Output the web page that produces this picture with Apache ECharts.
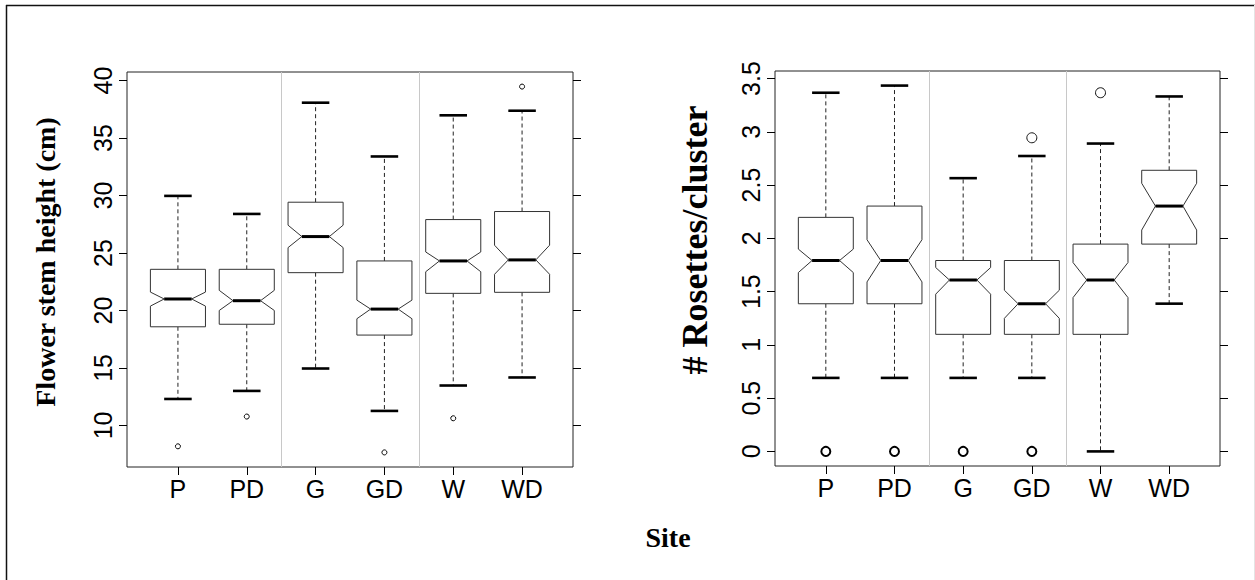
<!DOCTYPE html>
<html>
<head>
<meta charset="utf-8">
<script src="https://cdn.jsdelivr.net/npm/echarts@6/dist/echarts.min.js"></script>
<style>
html,body{margin:0;padding:0;background:#fff;}
#chart{width:1255px;height:580px;}
</style>
</head>
<body>
<div id="chart"></div>
<script>
// ---------- data ----------
var categories = ['P', 'PD', 'G', 'GD', 'W', 'WD'];

// Flower stem height (cm)
var stemWhiskerLow  = [12.3, 13.0, 14.95, 11.26, 13.47, 14.17];
var stemQ1          = [18.58, 18.8, 23.29, 17.86, 21.49, 21.58];
var stemNotchLow    = [20.38, 20.0, 25.47, 19.28, 23.37, 23.15];
var stemMedian      = [21.0, 20.85, 26.43, 20.12, 24.31, 24.4];
var stemNotchHigh   = [21.6, 21.75, 27.42, 20.9, 25.09, 25.68];
var stemQ3          = [23.58, 23.58, 29.42, 24.31, 27.91, 28.61];
var stemWhiskerHigh = [29.97, 28.4, 38.08, 33.4, 36.98, 37.38];
var stemOutliers    = [[1, 8.18], [2, 10.77], [4, 7.65], [5, 10.62], [6, 39.48]];
var stemTicks       = [10, 15, 20, 25, 30, 35, 40];

// # Rosettes/cluster
var rosWhiskerLow  = [0.69, 0.69, 0.69, 0.69, 0, 1.387];
var rosQ1          = [1.386, 1.386, 1.099, 1.099, 1.099, 1.946];
var rosNotchLow    = [1.679, 1.591, 1.476, 1.249, 1.444, 2.078];
var rosMedian      = [1.792, 1.792, 1.609, 1.386, 1.609, 2.303];
var rosNotchHigh   = [1.899, 1.987, 1.726, 1.513, 1.773, 2.517];
var rosQ3          = [2.197, 2.303, 1.792, 1.792, 1.946, 2.639];
var rosWhiskerHigh = [3.367, 3.434, 2.565, 2.773, 2.89, 3.332];
var rosOutliersRepeated = [[1, 0], [2, 0], [3, 0], [4, 0]];
var rosOutliersSingle   = [[4, 2.944], [5, 3.367]];
var rosTicks = [0, 0.5, 1, 1.5, 2, 2.5, 3, 3.5];

var catPositions = [1, 2, 3, 4, 5, 6];
var groupDividers = [2.5, 4.5];

// ---------- helpers ----------
function rows(wl, q1, nl, med, nh, q3, wh) {
  return categories.map(function (c, i) {
    return [i + 1, wl[i], q1[i], nl[i], med[i], nh[i], q3[i], wh[i]];
  });
}

function renderBox(params, api) {
  var x = api.value(0);
  var hw = 0.4;
  var wl = api.value(1), q1 = api.value(2), nl = api.value(3), md = api.value(4),
      nh = api.value(5), q3 = api.value(6), wh = api.value(7);
  function p(dx, v) { return api.coord([x + dx, v]); }
  var poly = [
    p(-hw, q1), p(-hw, nl), p(-hw / 2, md), p(-hw, nh), p(-hw, q3),
    p(hw, q3), p(hw, nh), p(hw / 2, md), p(hw, nl), p(hw, q1)
  ];
  var dashStyle = { stroke: '#222', lineWidth: 1, lineDash: [4, 3] };
  var capStyle = { stroke: '#000', lineWidth: 2.6 };
  function seg(a, b, st) {
    return { type: 'line', shape: { x1: a[0], y1: a[1], x2: b[0], y2: b[1] }, style: st };
  }
  return {
    type: 'group',
    children: [
      seg(p(0, q3), p(0, wh), dashStyle),
      seg(p(0, q1), p(0, wl), dashStyle),
      seg(p(-0.2, wh), p(0.2, wh), capStyle),
      seg(p(-0.2, wl), p(0.2, wl), capStyle),
      { type: 'polygon', shape: { points: poly }, style: { fill: '#fff', stroke: '#333', lineWidth: 1 } },
      seg(p(-hw / 2, md), p(hw / 2, md), { stroke: '#000', lineWidth: 3 })
    ]
  };
}

var tickFont = { fontFamily: 'Liberation Sans', fontSize: 25, color: '#000' };

function makeXAxis(gridIndex) {
  return {
    type: 'value', gridIndex: gridIndex, min: 0.26, max: 6.74,
    axisLine: { show: false, onZero: false },
    splitLine: { show: false },
    axisTick: { show: true, length: 8, customValues: catPositions, lineStyle: { color: '#000', width: 1 } },
    axisLabel: Object.assign({
      show: true, margin: 9, customValues: catPositions,
      formatter: function (v) { return categories[Math.round(v) - 1]; }
    }, tickFont)
  };
}

function makeYAxes(gridIndex, min, max, ticks) {
  return [{
    type: 'value', gridIndex: gridIndex, min: min, max: max, position: 'left',
    axisLine: { show: false, onZero: false },
    splitLine: { show: false },
    axisTick: { show: true, length: 8, customValues: ticks, lineStyle: { color: '#000', width: 1 } },
    axisLabel: Object.assign({ show: true, rotate: 90, margin: 12, customValues: ticks }, tickFont)
  }, {
    type: 'value', gridIndex: gridIndex, min: min, max: max, position: 'right',
    axisLine: { show: false, onZero: false },
    splitLine: { show: false },
    axisTick: { show: true, length: 8, customValues: ticks, lineStyle: { color: '#000', width: 1 } },
    axisLabel: { show: false }
  }];
}

function boxSeries(xi, yi, data) {
  return {
    type: 'custom', xAxisIndex: xi, yAxisIndex: yi, data: data, renderItem: renderBox,
    silent: true, animation: false, clip: false,
    markLine: {
      silent: true, symbol: 'none', animation: false,
      label: { show: false },
      lineStyle: { color: '#c8c8c8', type: 'solid', width: 1 },
      data: groupDividers.map(function (d) { return { xAxis: d }; })
    }
  };
}

var chart = echarts.init(document.getElementById('chart'), null, { renderer: 'svg' });

var yLeft = makeYAxes(0, 6.38, 40.75, stemTicks);
var yRight = makeYAxes(1, -0.137, 3.571, rosTicks);

chart.setOption({
  backgroundColor: '#fff',
  animation: false,
  grid: [
    { left: 127, top: 72, width: 446, height: 395, show: true, borderColor: '#222', borderWidth: 1, backgroundColor: 'transparent' },
    { left: 775, top: 71, width: 445, height: 395, show: true, borderColor: '#222', borderWidth: 1, backgroundColor: 'transparent' }
  ],
  xAxis: [makeXAxis(0), makeXAxis(1)],
  yAxis: [yLeft[0], yLeft[1], yRight[0], yRight[1]],
  series: [
    boxSeries(0, 0, rows(stemWhiskerLow, stemQ1, stemNotchLow, stemMedian, stemNotchHigh, stemQ3, stemWhiskerHigh)),
    {
      type: 'scatter', xAxisIndex: 0, yAxisIndex: 0, data: stemOutliers, silent: true,
      symbol: 'circle', symbolSize: 5,
      itemStyle: { color: '#fff', borderColor: '#000', borderWidth: 1, opacity: 1 }
    },
    boxSeries(1, 2, rows(rosWhiskerLow, rosQ1, rosNotchLow, rosMedian, rosNotchHigh, rosQ3, rosWhiskerHigh)),
    {
      type: 'scatter', xAxisIndex: 1, yAxisIndex: 2, data: rosOutliersRepeated, silent: true,
      symbol: 'circle', symbolSize: 9,
      itemStyle: { color: '#fff', borderColor: '#000', borderWidth: 2, opacity: 1 }
    },
    {
      type: 'scatter', xAxisIndex: 1, yAxisIndex: 2, data: rosOutliersSingle, silent: true,
      symbol: 'circle', symbolSize: 10,
      itemStyle: { color: '#fff', borderColor: '#111', borderWidth: 1, opacity: 1 }
    }
  ],
  graphic: [
    { type: 'line', shape: { x1: 6, y1: 5.5, x2: 1255, y2: 5.5 }, style: { stroke: '#111', lineWidth: 1.5 } },
    { type: 'line', shape: { x1: 6.5, y1: 5, x2: 6.5, y2: 580 }, style: { stroke: '#111', lineWidth: 1.5 } },
    { type: 'line', shape: { x1: 1254.5, y1: 5, x2: 1254.5, y2: 580 }, style: { stroke: '#e4e4e4', lineWidth: 1 } },
    {
      type: 'text', x: 45, y: 262, rotation: Math.PI / 2,
      style: { text: 'Flower stem height (cm)', font: 'bold 28px "Liberation Serif"', fill: '#000', align: 'center', verticalAlign: 'middle' }
    },
    {
      type: 'text', x: 695, y: 240, rotation: Math.PI / 2,
      style: { text: '# Rosettes/cluster', font: 'bold 36px "Liberation Serif"', fill: '#000', align: 'center', verticalAlign: 'middle' }
    },
    {
      type: 'text', x: 668, y: 537,
      style: { text: 'Site', font: 'bold 28px "Liberation Serif"', fill: '#000', align: 'center', verticalAlign: 'middle' }
    }
  ]
});
</script>
</body>
</html>
